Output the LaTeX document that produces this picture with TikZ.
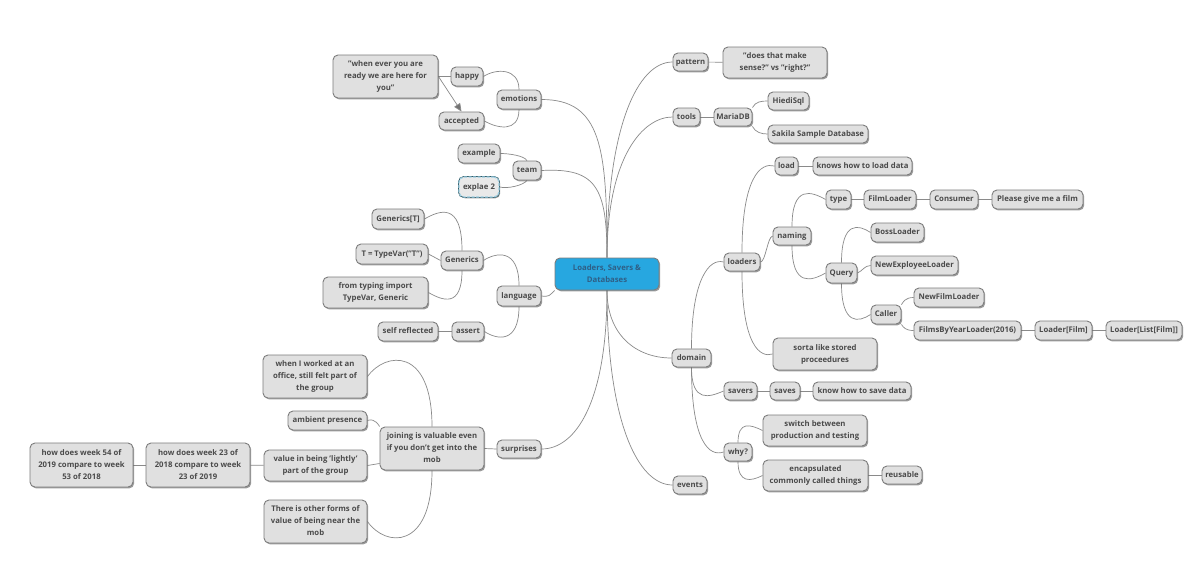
\documentclass[tikz,border=0pt]{standalone}
\usepackage{fontspec}
\setmainfont{Open Sans}[BoldFont={* Bold}]
\usetikzlibrary{shadows,backgrounds,arrows.meta}
\definecolor{txt}{HTML}{4A4A4A}
\definecolor{boxf}{HTML}{E0E0E0}
\definecolor{boxl}{HTML}{7C7C7C}
\definecolor{lnk}{HTML}{8A8A8A}
\definecolor{rootf}{HTML}{27A7E0}
\definecolor{roott}{HTML}{2F5F86}
\definecolor{dashl}{HTML}{9CCDE0}
\definecolor{dashd}{HTML}{2F5A66}
\newcommand{\tstrut}{\rule[-2pt]{0pt}{8.5pt}}
\newcommand{\bx}[7][mm]{\node[#1,minimum width={(#5-#3)*1pt},minimum height={(#6-#4)*1pt}] (#2) at ({(#3+#5)/2},{(#4+#6)/2}) {\tstrut #7\tstrut};}
\tikzset{
 mm/.style={draw=boxl,fill=boxf,line width=0.9pt,rounded corners=5pt,inner sep=0pt,align=center,text=txt,
   font=\fontsize{7.75}{11.8}\selectfont\bfseries,drop shadow={shadow xshift=1.2pt,shadow yshift=-1.4pt,opacity=0.55,fill=black!70}},
 rootn/.style={mm,fill=rootf,text=roott,draw=boxl},
 dashn/.style={mm,fill=boxf!70!white,draw=dashl,dash pattern=on 3pt off 1.5pt,line width=1.2pt,preaction={draw=dashd,solid,line width=1.9pt}},
 lk/.style={draw=lnk,line width=0.7pt}
}
\begin{document}
\begin{tikzpicture}[x=1pt,y=-1pt]
\useasboundingbox (0,0) rectangle (1200,563);
\bx[rootn]{center}{555}{258}{659}{290}{Loaders, Savers \&\\Databases}
\bx{pattern}{673}{53}{708}{71}{pattern}
\bx{sense}{723}{47}{827}{78}{"does that make\\sense?" vs "right?"}
\bx{tools}{673}{108}{700}{126}{tools}
\bx{maria}{714}{108}{752}{126}{MariaDB}
\bx{hiedi}{768}{92}{809}{110}{HiediSql}
\bx{sakila}{768}{125}{868}{143}{Sakila Sample Database}
\bx{loaders}{724}{253}{760}{271}{loaders}
\bx{load}{775}{157}{798}{175}{load}
\bx{knows}{813}{157}{912}{175}{knows how to load data}
\bx{naming}{773}{227}{811}{245}{naming}
\bx{type}{826}{190}{851}{209}{type}
\bx{film}{864}{190}{916}{209}{FilmLoader}
\bx{consumer}{930}{190}{978}{209}{Consumer}
\bx{please}{992}{190}{1083}{209}{Please give me a film}
\bx{boss}{871}{223}{924}{242}{BossLoader}
\bx{query}{826}{263}{857}{283}{Query}
\bx{newemp}{871}{256}{958}{275}{NewExployeeLoader}
\bx{caller}{871}{305}{901}{324}{Caller}
\bx{newfilm}{914}{288}{984}{307}{NewFilmLoader}
\bx{byyear}{914}{321}{1021}{340}{FilmsByYearLoader(2016)}
\bx{lfilm}{1035}{321}{1092}{340}{Loader[Film]}
\bx{llist}{1106}{321}{1182}{340}{Loader[List[Film]]}
\bx{sorta}{773}{338}{877}{370}{sorta like stored\\proceedures}
\bx{domain}{672}{349}{711}{367}{domain}
\bx{savers}{724}{382}{757}{400}{savers}
\bx{saves}{770}{382}{800}{400}{saves}
\bx{knowsave}{813}{382}{911}{400}{know how to save data}
\bx{why}{724}{443}{752}{461}{why?}
\bx{switch}{763}{415}{867}{446}{switch between\\production and testing}
\bx{encaps}{763}{460}{868}{491}{encapsulated\\commonly called things}
\bx{reuse}{882}{466}{922}{484}{reusable}
\bx{events}{673}{476}{707}{494}{events}
\bx{when}{333}{55}{438}{98}{"when ever you are\\ready we are here for\\you"}
\bx{happy}{451}{67}{483}{86}{happy}
\bx{emotions}{497}{90}{541}{109}{emotions}
\bx{accepted}{439}{112}{484}{130}{accepted}
\bx{example}{458}{144}{500}{163}{example}
\bx{team}{513}{161}{541}{180}{team}
\bx[dashn]{explae}{459}{177}{499}{197}{explae 2}
\bx{gent}{372}{209}{424}{229}{Generics[T]}
\bx{tvar}{356}{244}{428}{264}{T = TypeVar("T")}
\bx{generics}{441}{251}{483}{270}{Generics}
\bx{typing}{323}{277}{428}{308}{from typing import\\TypeVar, Generic}
\bx{language}{497}{286}{541}{306}{language}
\bx{selfr}{378}{322}{438}{341}{self reflected}
\bx{assert}{452}{322}{484}{341}{assert}
\bx{office}{263}{355}{367}{398}{when I worked at an\\office, still felt part of\\the group}
\bx{ambient}{288}{411}{367}{430}{ambient presence}
\bx{lightly}{264}{450}{367}{481}{value in being 'lightly'\\part of the group}
\bx{forms}{264}{500}{367}{543}{There is other forms of\\value of being near the\\mob}
\bx{joining}{380}{427}{484}{470}{joining is valuable even\\if you don't get into the\\mob}
\bx{surprises}{497}{440}{541}{458}{surprises}
\bx{w23}{146}{443}{250}{487}{how does week 23 of\\2018 compare to week\\23 of 2019}
\bx{w54}{30}{443}{133}{487}{how does week 54 of\\2019 compare to week\\53 of 2018}
\begin{scope}[on background layer]
\fill[white] (0,0) rectangle (1200,563);
\draw[lk] (center.north) .. controls +(0,-130) and +(-35,0) .. (pattern.west);
\draw[lk] (center.north) .. controls +(0,-100) and +(-30,0) .. (tools.west);
\draw[lk] (center.north) .. controls +(0,-110) and +(60,0) .. (emotions.east);
\draw[lk] (center.north) .. controls +(0,-70) and +(55,-3) .. (team.east);
\draw[lk] (center.south west) .. controls +(-5,5) and +(8,1) .. (language.east);
\draw[lk] (center.south) .. controls +(0,45) and +(-35,0) .. (domain.west);
\draw[lk] (center.south) .. controls +(0,130) and +(-35,0) .. (events.west);
\draw[lk] (center.south) .. controls +(0,110) and +(35,0) .. (surprises.east);
\draw[lk] (pattern) -- (sense);
\draw[lk] (tools) -- (maria);
\draw[lk] (maria.north east) .. controls +(3,-6) and +(-6,0) .. (hiedi.west);
\draw[lk] (maria.south east) .. controls +(3,6) and +(-6,0) .. (sakila.west);
\draw[lk] (domain.north) .. controls +(0,-70) and +(-14,-4) .. (loaders.west);
\draw[lk] (domain.south) .. controls +(0,36) and +(-14,6) .. (savers.west);
\draw[lk] (domain.south) .. controls +(0,75) and +(-14,5) .. (why.west);
\draw[lk] (savers) -- (saves);
\draw[lk] (saves) -- (knowsave);
\draw[lk] (why.north) .. controls +(0,-22) and +(-12,-6) .. (switch.west);
\draw[lk] (why.south) .. controls +(0,22) and +(-12,6) .. (encaps.west);
\draw[lk] (encaps.east |- reuse.west) -- (reuse.west);
\draw[lk] (loaders.north) .. controls +(0,-75) and +(-14,-4) .. (load.west);
\draw[lk] (loaders.east) .. controls +(5,0) and +(-5,1) .. (naming.west);
\draw[lk] (loaders.south) .. controls +(0,75) and +(-12,4) .. (sorta.west);
\draw[lk] (load) -- (knows);
\draw[lk] (naming.north) .. controls +(0,-42) and +(-14,-8) .. (type.west);
\draw[lk] (naming.south) .. controls +(0,42) and +(-14,8) .. (query.west);
\draw[lk] (type) -- (film);
\draw[lk] (film) -- (consumer);
\draw[lk] (consumer) -- (please);
\draw[lk] (query.north) .. controls +(0,-42) and +(-12,-8) .. (boss.west);
\draw[lk] (query.east) .. controls +(5,-2) and +(-6,0) .. (newemp.west);
\draw[lk] (query.south) .. controls +(0,42) and +(-12,8) .. (caller.west);
\draw[lk] (caller.north east) .. controls +(2,-3) and +(-8,0) .. (newfilm.west);
\draw[lk] (caller.south east) .. controls +(2,3) and +(-8,0) .. (byyear.west);
\draw[lk] (byyear) -- (lfilm);
\draw[lk] (lfilm) -- (llist);
\draw[lk] (when.east |- happy.west) -- (happy.west);
\draw[lk,-{Triangle[length=8pt,width=7pt,fill=black!55]}] (when.east |- happy.west) -- (accepted.north);
\draw[lk] (emotions.north) .. controls +(0,-22) and +(12,-8) .. (happy.east);
\draw[lk] (emotions.south) .. controls +(0,24) and +(12,7) .. (accepted.east);
\draw[lk] (team.north) .. controls +(-3,-5) and +(8,0) .. (example.east);
\draw[lk] (team.south) .. controls +(-4,5) and +(8,2) .. (explae.east);
\draw[lk] (generics.north) .. controls +(0,-50) and +(14,-8) .. (gent.east);
\draw[lk] (generics.west) -- (tvar.east);
\draw[lk] (generics.south) .. controls +(0,38) and +(14,8) .. (typing.east);
\draw[lk] (language.north) .. controls +(0,-38) and +(12,-8) .. (generics.east);
\draw[lk] (language.south) .. controls +(0,38) and +(12,8) .. (assert.east);
\draw[lk] (selfr) -- (assert);
\draw[lk] (joining.north) .. controls +(0,-80) and +(18,-25) .. (office.east);
\draw[lk] (joining.north west) .. controls +(0,0) and +(8,-3) .. (ambient.east);
\draw[lk] (joining.west |- lightly.east) ++(0,-2) -- (lightly.east);
\draw[lk] (joining.south) .. controls +(0,80) and +(18,26) .. (forms.east);
\draw[lk] (lightly) -- (w23);
\draw[lk] (w23) -- (w54);
\draw[lk] (joining.east) -- (surprises.west);
\end{scope}
\end{tikzpicture}
\end{document}
